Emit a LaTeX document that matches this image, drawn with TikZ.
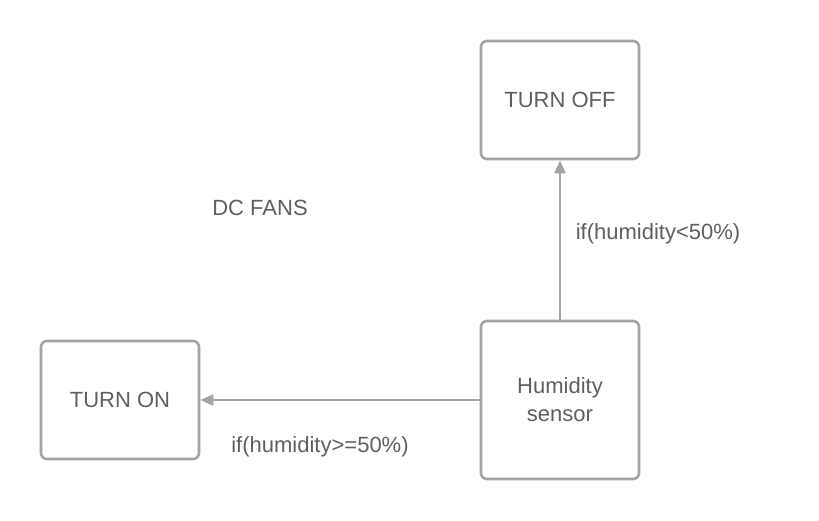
\documentclass[tikz,border=0pt]{standalone}
\usepackage{fontspec}
\setmainfont{Liberation Sans}
\usetikzlibrary{positioning, arrows.meta}
\definecolor{linegray}{RGB}{165,165,165}
\definecolor{textgray}{RGB}{95,95,95}

\begin{document}
\begin{tikzpicture}[x=1pt, y=-1pt,
        box/.style={rectangle, draw=linegray, line width=2.6pt, minimum width=158pt, minimum height=118pt, align=center, rounded corners=6pt, text=textgray, font=\fontsize{22}{28}\selectfont},
        lbl/.style={text=textgray, font=\fontsize{22}{26}\selectfont, inner sep=0pt},
        arrow/.style={-{Triangle[length=13pt, width=11pt]}, draw=linegray, line width=2pt}
    ]
        \useasboundingbox (0,0) rectangle (819,520);

        % States
        \node[box] (OFF) at (560,100) {TURN OFF};
        \node[box, minimum height=158pt] (SENS) at (560,400) {Humidity\\sensor};
        \node[box] (ON) at (120,400) {TURN ON};

        % Labels
        \node[lbl] (TITLE) at (260,208) {DC FANS};
        \node[lbl] (LOW) at (658,234) {if(humidity<50\%)};
        \node[lbl] (HIGH) at (320,447) {if(humidity>=50\%)};

        % Arrows
        \draw[arrow] (SENS) -- (OFF);
        \draw[arrow] (SENS) -- (ON);
    \end{tikzpicture}
\end{document}
